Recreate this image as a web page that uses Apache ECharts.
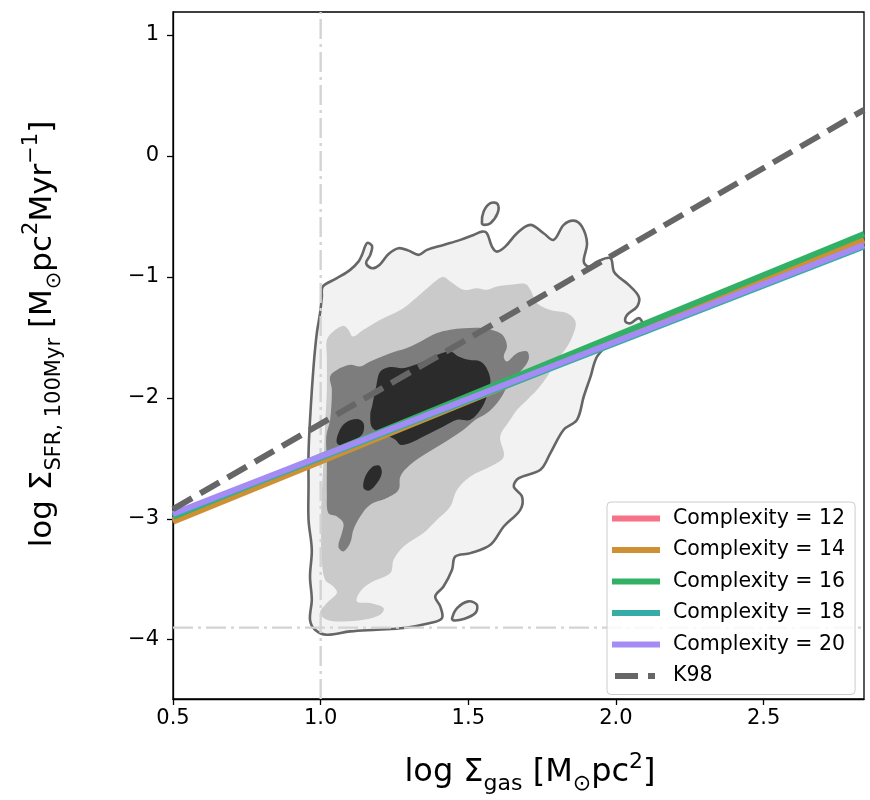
<!DOCTYPE html>
<html><head><meta charset="utf-8">
<script src="https://cdn.jsdelivr.net/npm/echarts@6/dist/echarts.min.js"></script>
<style>html,body{margin:0;padding:0;background:#fff}#c{width:870px;height:800px}</style>
</head><body><div id="c"></div>
<script>
// ---- axis ranges & ticks ----
const xMin = 0.5, xMax = 2.84;
const yMin = -4.49, yMax = 1.19;
const xTicks = [0.5, 1.0, 1.5, 2.0, 2.5];
const yTicks = [-4, -3, -2, -1, 0, 1];

// ---- reference lines ----
const refLineX = 1.0;
const refLineY = -3.9;

// ---- fitted relations (values at x = 0.5 and x = 2.84) ----
const fitX = [0.5, 2.84];
const fitNames = ['Complexity = 12', 'Complexity = 14', 'Complexity = 16', 'Complexity = 18', 'Complexity = 20'];
const fitColors = ['#f77189', '#ce9032', '#32b166', '#36ada4', '#a48cf4'];
const fit12 = [-3.01, -0.70];
const fit14 = [-3.025, -0.694];
const fit16 = [-2.983, -0.645];
const fit18 = [-2.97, -0.748];
const fit20 = [-2.959, -0.736];
const k98X = [0.5, 2.84];
const k98Y = [-2.92, 0.38];

// ---- density contours (log Σgas, log ΣSFR) ----
const contourOuter = [[1.007,-1.080],[1.055,-1.011],[1.100,-0.942],[1.128,-0.874],[1.140,-0.818],[1.157,-0.721],[1.174,-0.744],[1.168,-0.818],[1.154,-0.887],[1.174,-0.928],[1.199,-0.901],[1.230,-0.810],[1.264,-0.763],[1.298,-0.783],[1.332,-0.818],[1.360,-0.777],[1.416,-0.736],[1.473,-0.694],[1.518,-0.653],[1.546,-0.626],[1.563,-0.639],[1.580,-0.750],[1.597,-0.791],[1.625,-0.750],[1.665,-0.639],[1.710,-0.570],[1.755,-0.639],[1.789,-0.694],[1.823,-0.570],[1.857,-0.535],[1.885,-0.584],[1.902,-0.721],[1.891,-0.874],[1.908,-0.915],[1.936,-0.874],[1.981,-0.845],[1.993,-0.956],[2.015,-1.011],[2.043,-1.066],[2.077,-1.163],[2.072,-1.245],[2.038,-1.314],[2.032,-1.369],[2.049,-1.383],[2.077,-1.341],[2.089,-1.383],[2.072,-1.438],[2.026,-1.493],[1.981,-1.548],[1.936,-1.659],[1.914,-1.824],[1.891,-1.989],[1.868,-2.182],[1.823,-2.264],[1.778,-2.457],[1.744,-2.595],[1.671,-2.664],[1.654,-2.733],[1.682,-2.816],[1.676,-2.926],[1.620,-3.064],[1.575,-3.215],[1.507,-3.284],[1.456,-3.312],[1.445,-3.421],[1.416,-3.560],[1.388,-3.642],[1.405,-3.725],[1.411,-3.821],[1.371,-3.862],[1.281,-3.903],[1.191,-3.917],[1.100,-3.931],[1.021,-3.959],[0.981,-3.917],[0.964,-3.835],[0.970,-3.669],[0.964,-3.477],[0.970,-3.256],[0.959,-3.008],[0.959,-2.733],[0.959,-2.457],[0.964,-2.182],[0.976,-1.741],[0.987,-1.465],[0.998,-1.300],[1.004,-1.163]];
const contourIslandTop = [[1.546,-0.556],[1.552,-0.460],[1.575,-0.391],[1.599,-0.397],[1.599,-0.474],[1.575,-0.556],[1.554,-0.570]];
const contourIslandBottom = [[1.445,-3.821],[1.462,-3.738],[1.501,-3.683],[1.529,-3.711],[1.524,-3.779],[1.484,-3.829],[1.450,-3.840]];
const contourLevel2 = [[1.021,-1.521],[1.043,-1.452],[1.077,-1.405],[1.094,-1.438],[1.109,-1.493],[1.145,-1.438],[1.202,-1.355],[1.270,-1.273],[1.303,-1.215],[1.348,-1.121],[1.394,-1.025],[1.416,-1.002],[1.439,-1.039],[1.484,-1.107],[1.529,-1.093],[1.563,-1.107],[1.597,-1.080],[1.642,-1.066],[1.693,-1.058],[1.710,-1.107],[1.733,-1.217],[1.778,-1.273],[1.835,-1.300],[1.863,-1.369],[1.857,-1.465],[1.835,-1.576],[1.801,-1.686],[1.767,-1.824],[1.733,-1.934],[1.699,-2.017],[1.665,-2.099],[1.642,-2.182],[1.608,-2.320],[1.620,-2.485],[1.575,-2.568],[1.507,-2.650],[1.462,-2.760],[1.439,-2.898],[1.394,-3.008],[1.348,-3.118],[1.281,-3.229],[1.247,-3.339],[1.236,-3.449],[1.168,-3.531],[1.134,-3.601],[1.123,-3.683],[1.168,-3.697],[1.213,-3.738],[1.202,-3.793],[1.145,-3.835],[1.077,-3.849],[1.021,-3.835],[0.998,-3.779],[1.021,-3.697],[1.055,-3.614],[1.043,-3.560],[1.015,-3.504],[1.004,-3.339],[1.001,-3.064],[1.004,-2.788],[1.010,-2.512],[1.015,-2.237],[1.021,-1.934],[1.021,-1.659]];
const contourLevel3 = [[1.032,-2.182],[1.038,-1.934],[1.032,-1.824],[1.055,-1.769],[1.100,-1.727],[1.134,-1.741],[1.168,-1.700],[1.236,-1.631],[1.292,-1.589],[1.348,-1.521],[1.394,-1.465],[1.439,-1.438],[1.484,-1.424],[1.552,-1.424],[1.597,-1.452],[1.620,-1.493],[1.631,-1.576],[1.620,-1.659],[1.631,-1.700],[1.665,-1.631],[1.699,-1.617],[1.704,-1.686],[1.676,-1.783],[1.642,-1.851],[1.620,-1.961],[1.597,-2.044],[1.563,-2.126],[1.524,-2.182],[1.484,-2.264],[1.416,-2.374],[1.360,-2.457],[1.303,-2.554],[1.270,-2.650],[1.264,-2.760],[1.224,-2.829],[1.168,-2.884],[1.134,-2.981],[1.111,-3.091],[1.100,-3.201],[1.077,-3.270],[1.060,-3.229],[1.072,-3.118],[1.077,-3.036],[1.055,-2.981],[1.026,-2.953],[1.021,-2.788],[1.021,-2.512],[1.019,-2.320]];
const contourDarkMain = [[1.188,-1.907],[1.202,-1.783],[1.236,-1.746],[1.275,-1.755],[1.303,-1.741],[1.348,-1.700],[1.394,-1.645],[1.439,-1.617],[1.467,-1.659],[1.501,-1.686],[1.541,-1.700],[1.565,-1.769],[1.575,-1.865],[1.563,-1.989],[1.541,-2.099],[1.507,-2.182],[1.462,-2.182],[1.416,-2.237],[1.348,-2.320],[1.303,-2.374],[1.270,-2.388],[1.253,-2.347],[1.219,-2.306],[1.175,-2.248],[1.168,-2.140],[1.174,-2.072]];
const contourDarkLobe = [[1.055,-2.374],[1.060,-2.292],[1.083,-2.209],[1.123,-2.176],[1.145,-2.209],[1.143,-2.292],[1.117,-2.347],[1.077,-2.397]];
const contourDarkOval = [[1.145,-2.746],[1.151,-2.650],[1.174,-2.573],[1.199,-2.562],[1.207,-2.622],[1.191,-2.705],[1.165,-2.766]];

const FONT = 'DejaVu Sans';

function polygonSeries(polys, fill, stroke, lw) {
  return {
    type: 'custom', coordinateSystem: 'cartesian2d', silent: true, clip: true,
    data: polys.map((p, i) => [p[0][0], p[0][1], i]),
    renderItem: function (params, api) {
      const pts = polys[params.dataIndex].map(p => api.coord(p));
      return {
        type: 'polygon',
        shape: { points: pts, smooth: 0.35 },
        style: { fill: fill, stroke: stroke, lineWidth: lw }
      };
    }
  };
}

function fitSeries(name, color, ys) {
  return {
    name: name, type: 'line', symbol: 'none', silent: true,
    data: [[fitX[0], ys[0]], [fitX[1], ys[1]]],
    lineStyle: { color: color, width: 6 }, itemStyle: { color: color }
  };
}

const fmtY = v => v < 0 ? '\u2212' + (-v) : String(v);
const k98Icon = 'path://M3,0H26V6H3Z M36,0H43V6H36Z M0,2.9H0.05V3H0Z M47.95,2.9H48V3H47.95Z';

const chart = echarts.init(document.getElementById('c'), null, { renderer: 'canvas' });
chart.setOption({
  animation: false,
  backgroundColor: '#fff',
  grid: { left: 173, top: 12, right: 6, bottom: 101, show: true, borderColor: '#000', borderWidth: 1.3, backgroundColor: 'transparent' },
  xAxis: {
    type: 'value', min: xMin, max: xMax,
    axisLine: { show: true, onZero: false, lineStyle: { color: '#000', width: 1.3 } },
    axisTick: { show: true, customValues: xTicks, length: 6, lineStyle: { color: '#000', width: 1.3 } },
    axisLabel: { customValues: xTicks, formatter: v => v.toFixed(1), fontSize: 21, fontFamily: FONT, color: '#000', margin: 9 },
    splitLine: { show: false }
  },
  yAxis: {
    type: 'value', min: yMin, max: yMax,
    axisLine: { show: true, onZero: false, lineStyle: { color: '#000', width: 1.3 } },
    axisTick: { show: true, customValues: yTicks, length: 6, lineStyle: { color: '#000', width: 1.3 } },
    axisLabel: { customValues: yTicks, formatter: fmtY, fontSize: 21, fontFamily: FONT, color: '#000', margin: 14 },
    splitLine: { show: false }
  },
  legend: {
    orient: 'vertical', left: 607, top: 502,
    data: fitNames.map(n => ({ name: n, icon: 'rect' })).concat([{ name: 'K98', icon: k98Icon }]),
    itemWidth: 48, itemHeight: 6, itemGap: 10.5,
    padding: [6, 10, 8, 5],
    backgroundColor: 'rgba(255,255,255,0.85)', borderColor: '#cccccc', borderWidth: 1, borderRadius: 4,
    textStyle: { fontSize: 20.5, fontFamily: FONT, color: '#000', lineHeight: 20, padding: [0, 0, 0, 8] },
    selectedMode: false
  },
  graphic: [
    {
      type: 'text', x: 530, y: 773, silent: true,
      style: {
        text: '{m|log \u03A3}{s|gas}{m| [M}{s|\u2299}{m|pc}{p|2}{m|]}',
        align: 'center', verticalAlign: 'middle', fill: '#000',
        rich: {
          m: { fontSize: 32, fontFamily: FONT, lineHeight: 44, fill: '#000' },
          s: { fontSize: 22, fontFamily: FONT, lineHeight: 22, verticalAlign: 'bottom', fill: '#000' },
          p: { fontSize: 22, fontFamily: FONT, lineHeight: 26, verticalAlign: 'top', fill: '#000' }
        }
      }
    },
    {
      type: 'text', x: 43, y: 334, rotation: Math.PI / 2, silent: true,
      style: {
        text: '{m|log \u03A3}{s|SFR, 100Myr}{m| [M}{s|\u2299}{m|pc}{p|2}{m|Myr}{p|\u22121}{m|]}',
        align: 'center', verticalAlign: 'middle', fill: '#000',
        rich: {
          m: { fontSize: 31, fontFamily: FONT, lineHeight: 44, fill: '#000' },
          s: { fontSize: 21, fontFamily: FONT, lineHeight: 22, verticalAlign: 'bottom', fill: '#000' },
          p: { fontSize: 21, fontFamily: FONT, lineHeight: 26, verticalAlign: 'top', fill: '#000' }
        }
      }
    }
  ],
  series: [
    polygonSeries([contourOuter, contourIslandTop, contourIslandBottom], '#f2f2f2', null, 0),
    polygonSeries([contourLevel2], '#cacaca', null, 0),
    polygonSeries([contourLevel3], '#7d7d7d', null, 0),
    polygonSeries([contourDarkMain, contourDarkLobe, contourDarkOval], '#2b2b2b', null, 0),
    {
      type: 'line', symbol: 'none', silent: true,
      data: [[refLineX, yMin], [refLineX, yMax]],
      lineStyle: { color: '#d3d3d3', width: 2.4, type: [20, 5, 3, 5] }
    },
    {
      type: 'line', symbol: 'none', silent: true,
      data: [[xMin, refLineY], [xMax, refLineY]],
      lineStyle: { color: '#d3d3d3', width: 2.4, type: [20, 5, 3, 5] }
    },
    polygonSeries([contourOuter, contourIslandTop, contourIslandBottom], 'none', '#666666', 2.6),
    fitSeries(fitNames[0], fitColors[0], fit12),
    fitSeries(fitNames[1], fitColors[1], fit14),
    fitSeries(fitNames[2], fitColors[2], fit16),
    fitSeries(fitNames[3], fitColors[3], fit18),
    fitSeries(fitNames[4], fitColors[4], fit20),
    {
      name: 'K98', type: 'line', symbol: 'none', silent: true,
      data: [[k98X[0], k98Y[0]], [k98X[1], k98Y[1]]],
      lineStyle: { color: '#666666', width: 6, type: [22, 9.5] }, itemStyle: { color: '#666666' }
    }
  ]
});
</script></body></html>
